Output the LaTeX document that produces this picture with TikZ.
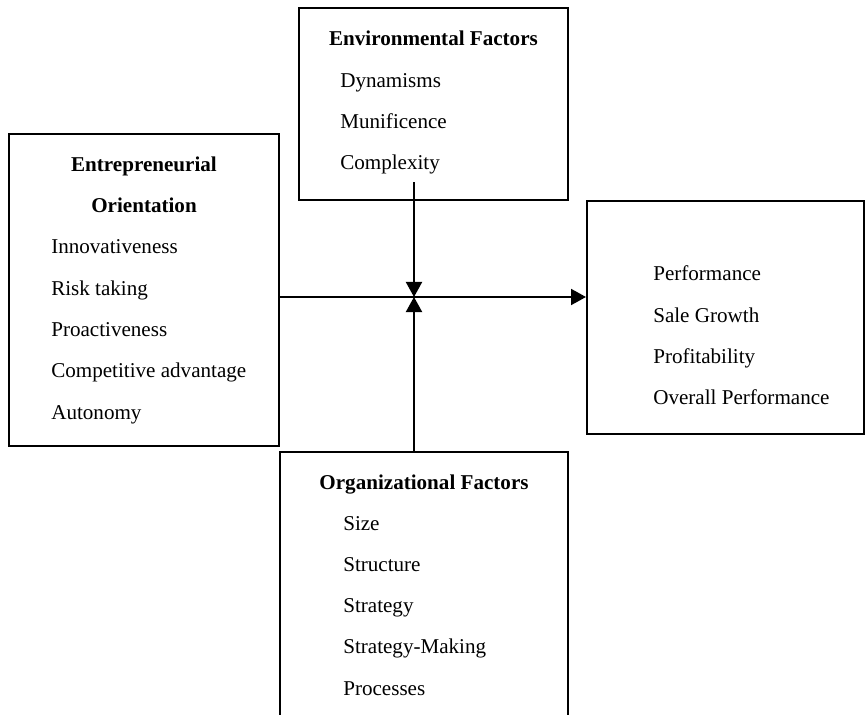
\documentclass[tikz,border=0pt]{standalone}
\usepackage{fontspec}
\setmainfont{Liberation Serif}
\usetikzlibrary{arrows.meta,calc}

\tikzset{
  box/.style={draw, line width=0.5mm, inner sep=0pt},
  head/.style={font=\fontsize{15}{18}\selectfont\bfseries, anchor=base, inner sep=0pt},
  item/.style={anchor=base west, inner sep=0pt},
  arr/.style={line width=0.5mm, -{Triangle[width=4mm,length=3.75mm]}}
}

\begin{document}
\begin{tikzpicture}[x=0.25mm, y=-0.25mm, font=\fontsize{15}{18}\selectfont]
    \useasboundingbox (0,0) rectangle (866,715);
    \clip (0,0) rectangle (866,715);

    % Cajas
    \node[box, minimum width=67.25mm, minimum height=48mm] (env) at (433.5,104) {};
    \node[box, minimum width=67.5mm, minimum height=78mm] (eo) at (144,290) {};
    \node[box, minimum width=69.25mm, minimum height=58.25mm] (perf) at (725.5,317.5) {};
    \node[box, minimum width=72mm, minimum height=77mm] (org) at (424,606) {};

    % Titulos
    \node[head] (envhead) at (433.5,46) {Environmental Factors};
    \node[head] (eohead1) at (144,171.7) {Entrepreneurial};
    \node[head] (eohead2) at (144,212.7) {Orientation};
    \node[head] (orghead) at (424,489.3) {Organizational Factors};

    % Listas
    \foreach \t [count=\i] in {Dynamisms, Munificence, Complexity}
        \node[item] (env\i) at (340,{87.3+41.3*(\i-1)}) {\t};
    \foreach \t [count=\i] in {Innovativeness, Risk taking, Proactiveness,
        Competitive advantage, Autonomy}
        \node[item] (eo\i) at (51,{254+41.3*(\i-1)}) {\t};
    \foreach \t [count=\i] in {Performance, Sale Growth, Profitability,
        Overall Performance}
        \node[item] (perf\i) at (653,{281+41*(\i-1)}) {\t};
    \foreach \t [count=\i] in {Size, Structure, Strategy, Strategy-Making, Processes}
        \node[item] (org\i) at (343,{530+41.3*(\i-1)}) {\t};

    % Flechas
    \coordinate (hub) at (414,297);
    \draw[arr] (eo.east |- hub) -- (perf.west |- hub);
    \draw[arr] ($(env.south -| hub)+(0,-19)$) -- (hub);
    \draw[arr] (org.north -| hub) -- (hub);
\end{tikzpicture}
\end{document}
